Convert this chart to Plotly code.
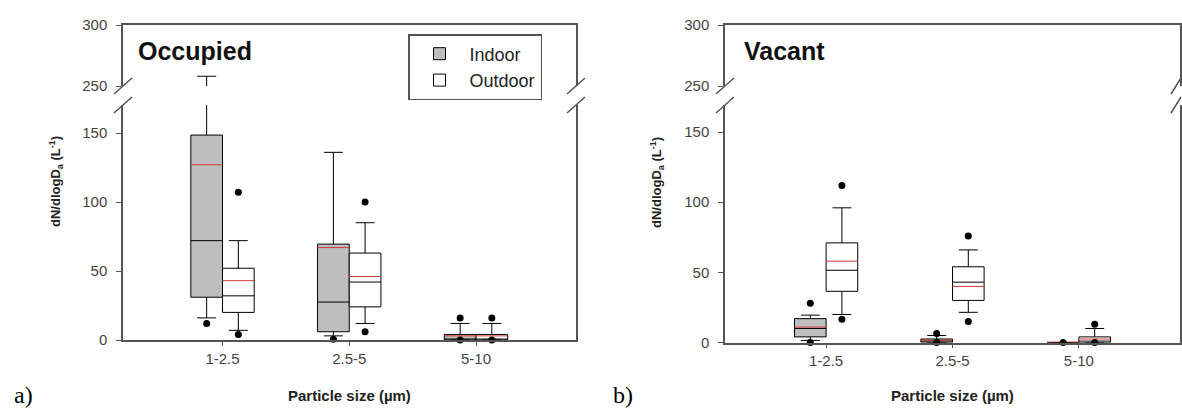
import plotly.graph_objects as go

W, H = 1182, 412

categories = ["1-2.5", "2.5-5", "5-10"]
cat_pos = [1, 2, 3]

# Occupied (panel a)
occ_in_q1 = [31, 6, 0]
occ_in_med = [72, 27.5, 0.5]
occ_in_q3 = [148.5, 69.5, 4]
occ_in_mean = [127, 67, 3]
occ_in_lo = [16, 3, 0]
occ_in_hi = [258, 136, 12]
occ_in_p5 = [12, 0.5, 0]
occ_in_p95 = [None, None, 16]

occ_out_q1 = [20, 24, 0]
occ_out_med = [32, 42, 0.5]
occ_out_q3 = [52, 63, 4]
occ_out_mean = [43, 46, 3]
occ_out_lo = [7, 12, 0]
occ_out_hi = [72, 85, 12]
occ_out_p5 = [4, 6, 0]
occ_out_p95 = [107, 100, 16]

# Vacant (panel b)
vac_in_q1 = [4, 0, 0]
vac_in_med = [10, 1, 0]
vac_in_q3 = [17, 2.5, 0]
vac_in_mean = [11, 1.5, 0.3]
vac_in_lo = [1.5, 0, 0]
vac_in_hi = [19.5, 5, 0]
vac_in_p5 = [0, 0, 0]
vac_in_p95 = [28, 6.5, None]

vac_out_q1 = [36.5, 30, 0]
vac_out_med = [51.5, 43, 1]
vac_out_q3 = [71, 54, 4]
vac_out_mean = [58, 40, 2.5]
vac_out_lo = [20, 21.5, 0]
vac_out_hi = [96, 66, 10]
vac_out_p5 = [16.5, 15, 0]
vac_out_p95 = [112, 76, 13]

lower_ticks = [0, 50, 100, 150]
upper_ticks = [250, 300]

BOXW = 0.25
OFF = 0.125
IN_FILL = "#bebebe"
OUT_FILL = "#ffffff"
MEAN_COL = "#d03a3a"
AX_COL = "#555555"
FONT = "Arial, Liberation Sans, sans-serif"

fig = go.Figure()


def add_group(name, q1, med, q3, mean, lo, hi, p5, p95, off, fill, xa_lo, ya_lo, xa_hi, ya_hi, show):
    xs = [c + off for c in cat_pos]
    for xa, ya, sl in [(xa_lo, ya_lo, show), (xa_hi, ya_hi, False)]:
        fig.add_trace(go.Box(
            x=xs, q1=q1, median=med, q3=q3, lowerfence=lo, upperfence=hi,
            width=BOXW, fillcolor=fill, line=dict(color="black", width=1),
            whiskerwidth=0.6, boxpoints=False, name=name, showlegend=sl,
            legendgroup=name, xaxis=xa, yaxis=ya, hoverinfo="skip"))
    mx, my = [], []
    for x, m in zip(xs, mean):
        mx += [x - BOXW / 2, x + BOXW / 2, None]
        my += [m, m, None]
    fig.add_trace(go.Scatter(x=mx, y=my, mode="lines", line=dict(color=MEAN_COL, width=1),
                             showlegend=False, xaxis=xa_lo, yaxis=ya_lo, hoverinfo="skip"))
    dx, dy = [], []
    for x, a, b in zip(xs, p5, p95):
        for v in (a, b):
            if v is not None:
                dx.append(x)
                dy.append(v)
    fig.add_trace(go.Scatter(x=dx, y=dy, mode="markers", marker=dict(color="black", size=7),
                             showlegend=False, xaxis=xa_lo, yaxis=ya_lo, hoverinfo="skip",
                             cliponaxis=False))


add_group("Indoor", occ_in_q1, occ_in_med, occ_in_q3, occ_in_mean, occ_in_lo, occ_in_hi,
          occ_in_p5, occ_in_p95, -OFF, IN_FILL, "x", "y", "x2", "y2", True)
add_group("Outdoor", occ_out_q1, occ_out_med, occ_out_q3, occ_out_mean, occ_out_lo, occ_out_hi,
          occ_out_p5, occ_out_p95, OFF, OUT_FILL, "x", "y", "x2", "y2", True)
add_group("Indoor", vac_in_q1, vac_in_med, vac_in_q3, vac_in_mean, vac_in_lo, vac_in_hi,
          vac_in_p5, vac_in_p95, -OFF, IN_FILL, "x3", "y3", "x4", "y4", False)
add_group("Outdoor", vac_out_q1, vac_out_med, vac_out_q3, vac_out_mean, vac_out_lo, vac_out_hi,
          vac_out_p5, vac_out_p95, OFF, OUT_FILL, "x3", "y3", "x4", "y4", False)


def px_x(p):
    return p / W


def px_y(p):
    return 1 - p / H


# pixel layout
L_X = (123, 576)
R_X = (725, 1180)
UP_Y = (86, 25)
L_LO_Y = (340, 105)
R_LO_Y = (342.5, 105)

tickfont = dict(family=FONT, size=15, color="#444")

common_x = dict(showgrid=False, zeroline=False, linecolor=AX_COL, linewidth=1.5, automargin=False)
common_y = dict(showgrid=False, zeroline=False, linecolor=AX_COL, linewidth=1.5, showline=True,
                mirror=True, ticks="outside", ticklen=5, tickcolor=AX_COL, tickfont=tickfont,
                ticklabelstandoff=6, automargin=False)

for xa, ya, xa2, ya2, xd, lo_y, lo_range, xr in [
    ("xaxis", "yaxis", "xaxis2", "yaxis2", L_X, L_LO_Y, 170.3, [0.215, 3.789]),
    ("xaxis3", "yaxis3", "xaxis4", "yaxis4", R_X, R_LO_Y, 169.3, [0.2, 3.8]),
]:
    yname = "y" if ya == "yaxis" else "y" + ya[5:]
    xname = "x" if xa == "xaxis" else "x" + xa[5:]
    y2name = "y" + ya2[5:]
    x2name = "x" + xa2[5:]
    dom_x = [px_x(xd[0]), px_x(xd[1])]
    fig.update_layout(**{
        xa: dict(common_x, domain=dom_x, range=xr, anchor=yname, tickvals=cat_pos,
                 ticktext=categories, showline=True, ticks="outside", ticklen=4,
                 tickcolor=AX_COL, tickfont=tickfont),
        ya: dict(common_y, domain=[px_y(lo_y[0]), px_y(lo_y[1])], range=[0, lo_range],
                 anchor=xname, tickvals=lower_ticks),
        xa2: dict(common_x, domain=dom_x, range=xr, anchor=y2name, side="top", showline=True,
                  showticklabels=False, ticks=""),
        ya2: dict(common_y, domain=[px_y(UP_Y[0]), px_y(UP_Y[1])], range=[250, 300],
                  anchor=x2name, tickvals=upper_ticks),
    })

# axis break slashes
shapes = []
for xd, lo_y in [(L_X, L_LO_Y), (R_X, R_LO_Y)]:
    for xpix in xd:
        for ypix in (UP_Y[0], lo_y[1]):
            shapes.append(dict(type="line", xref="paper", yref="paper",
                               x0=px_x(xpix - 9), y0=px_y(ypix + 8),
                               x1=px_x(min(xpix + 9, W - 1)), y1=px_y(ypix - 8),
                               line=dict(color=AX_COL, width=1.5)))

annotations = [
    dict(text="<b>Occupied</b>", x=px_x(136), y=px_y(51), xanchor="left", yanchor="middle",
         font=dict(family=FONT, size=25, color="#111")),
    dict(text="<b>Vacant</b>", x=px_x(742), y=px_y(51), xanchor="left", yanchor="middle",
         font=dict(family=FONT, size=25, color="#111")),
    dict(text="<b>dN/dlogD<sub>a</sub> (L<sup>-1</sup>)</b>", x=px_x(56), y=px_y(182),
         textangle=-90, xanchor="center", yanchor="middle",
         font=dict(family=FONT, size=13, color="#222")),
    dict(text="<b>dN/dlogD<sub>a</sub> (L<sup>-1</sup>)</b>", x=px_x(657), y=px_y(182),
         textangle=-90, xanchor="center", yanchor="middle",
         font=dict(family=FONT, size=13, color="#222")),
    dict(text="<b>Particle size (µm)</b>", x=px_x((L_X[0] + L_X[1]) / 2), y=px_y(395),
         xanchor="center", yanchor="middle", font=dict(family=FONT, size=15, color="#222")),
    dict(text="<b>Particle size (µm)</b>", x=px_x((R_X[0] + R_X[1]) / 2), y=px_y(395),
         xanchor="center", yanchor="middle", font=dict(family=FONT, size=15, color="#222")),
    dict(text="a)", x=px_x(12), y=px_y(395), xanchor="left", yanchor="middle",
         font=dict(family="Times New Roman, Liberation Serif, serif", size=24, color="black")),
    dict(text="b)", x=px_x(611), y=px_y(395), xanchor="left", yanchor="middle",
         font=dict(family="Times New Roman, Liberation Serif, serif", size=24, color="black")),
]
for a in annotations:
    a.update(xref="paper", yref="paper", showarrow=False)

fig.update_layout(
    width=W, height=H, margin=dict(l=0, r=0, t=0, b=0, pad=0, autoexpand=False),
    paper_bgcolor="white", plot_bgcolor="white",
    shapes=shapes, annotations=annotations,
    legend=dict(x=px_x(408), y=px_y(34), xanchor="left", yanchor="top",
                bordercolor=AX_COL, borderwidth=1.5, bgcolor="white",
                font=dict(family=FONT, size=18, color="#222"), tracegroupgap=0,
                itemwidth=50),
    showlegend=True,
)

fig.write_html(
    "out.html",
    config={"displayModeBar": False},
    post_script="document.body.style.margin='0px';document.body.style.padding='0px';"
                "document.body.style.overflow='hidden';",
)
